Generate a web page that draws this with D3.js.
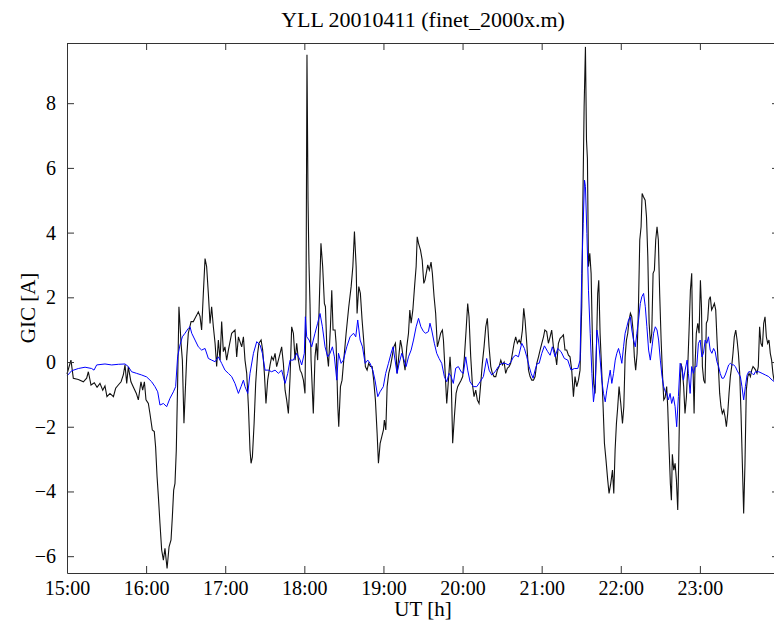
<!DOCTYPE html>
<html>
<head>
<meta charset="utf-8">
<script src="https://cdn.jsdelivr.net/npm/d3@7"></script>
<style>
  body { margin: 0; background: #fff; }
  svg text { font-family: "Liberation Serif", "Times New Roman", serif; fill: #000; }
</style>
</head>
<body>
<div id="chart"></div>
<script>
// minutes after 15:00 UT, and GIC [A]
const blackT = [0,3.0,4.8,8.6,12.4,14.9,16.2,18.2,20.7,22.8,25.0,27.1,28.8,30.3,32.6,35.2,36.9,38.9,41.0,42.7,44.0,45.3,46.5,48.5,50.3,52.6,54.1,56.1,57.4,58.7,59.9,61.7,62.9,64.7,66.2,67.2,68.3,69.3,70.5,71.8,73.1,74.3,75.9,77.4,78.9,79.9,80.9,81.9,82.9,83.9,84.9,86.5,87.5,88.7,
  90.8,92.0,94.1,95.8,97.1,98.4,99.6,100.9,102.1,103.4,104.7,105.9,107.2,108.5,109.7,111.0,112.3,113.5,114.8,116.1,117.3,118.6,119.8,121.1,122.4,124.9,127.4,128.7,130.0,132.5,133.8,135.0,136.3,137.6,138.8,139.6,140.6,141.9,143.1,144.6,145.6,147.2,148.4,149.7,150.9,152.2,154.0,155.2,156.5,157.8,159.0,160.3,161.6,162.8,164.1,165.4,166.6,167.9,169.2,170.4,171.7,173.0,174.2,175.5,176.8,178.0,179.3,
  180.5,181.3,182.0,182.8,183.5,184.3,185.1,186.8,188.1,189.1,190.1,191.4,192.6,193.9,195.2,196.0,197.2,198.3,199.8,200.8,201.8,203.3,204.1,205.4,206.1,207.4,208.6,209.9,211.7,213.7,215.5,216.8,218.0,219.3,220.0,221.3,222.5,223.8,225.0,226.3,227.6,228.8,230.1,231.4,232.6,233.9,235.2,236.2,237.5,238.7,240.0,240.7,241.8,242.8,244.0,245.3,246.6,247.8,249.1,250.4,251.6,252.9,253.9,255.2,256.4,257.7,259.0,260.0,261.0,262.3,263.6,264.8,265.6,266.6,268.1,269.4,270.6,
  271.5,273.6,274.8,276.1,277.1,278.4,279.6,280.9,282.2,283.4,284.7,285.5,286.7,288.0,289.3,290.5,291.3,292.5,293.8,295.1,296.3,297.6,298.9,300.1,301.4,302.7,303.9,304.9,306.2,307.4,308.7,310.0,311.2,312.5,313.8,315.0,316.3,317.6,318.8,320.1,321.4,322.6,323.9,325.2,326.4,327.7,329.0,330.2,331.5,332.7,334.0,335.3,336.5,337.8,339.1,340.3,341.6,342.9,344.1,345.4,346.4,347.4,348.7,350.0,351.2,352.5,353.8,355.0,356.3,357.6,358.8,360.1,361.4,
  362.4,363.8,365.1,366.4,367.6,368.9,370.2,371.4,372.7,374.0,375.2,376.5,377.7,379.0,380.3,381.5,382.8,384.1,385.3,386.6,387.9,389.1,390.4,391.2,392.2,393.2,394.0,394.7,395.5,396.5,397.5,398.5,399.5,400.5,401.5,402.5,403.3,404.3,405.6,406.6,407.6,408.8,410.1,411.1,412.4,413.7,414.7,415.7,416.7,417.7,418.7,420.0,421.3,422.3,423.3,424.3,425.3,426.3,427.3,428.3,429.3,430.3,431.3,432.4,433.4,434.4,435.4,436.2,437.2,438.5,439.5,440.5,441.5,442.5,443.5,444.5,445.5,446.5,447.5,448.5,449.5,450.6,451.6,452.6,
  453.6,454.8,455.6,456.6,457.6,458.4,459.1,460.2,461.2,462.2,463.2,463.9,464.7,465.7,466.7,467.7,468.7,469.8,470.8,471.8,472.8,473.8,474.8,475.6,476.3,477.3,478.4,479.4,480.4,481.2,481.9,482.9,483.9,484.9,485.9,486.9,487.9,488.9,490.0,491.0,492.0,493.0,494.0,495.0,496.0,497.0,498.1,499.1,500.1,501.1,502.1,503.1,504.1,505.1,506.1,507.2,508.2,509.2,510.2,511.2,512.2,513.2,514.2,515.2,516.3,517.3,518.3,519.3,520.3,521.3,522.3,523.3,524.3,525.3,526.3,527.4,528.4,529.4,530.4,531.4,532.4,533.4,534.4,535.4,536.2,540];
const blackGIC = [-0.37,0.06,-0.50,-0.54,-0.61,-0.50,-0.30,-0.71,-0.64,-0.78,-0.66,-0.87,-0.74,-1.07,-0.97,-1.07,-0.81,-0.71,-0.61,-0.40,-0.09,-0.66,-0.15,-0.61,-0.77,-0.97,-1.17,-0.61,-0.87,-0.61,-1.17,-1.28,-1.59,-2.10,-2.15,-2.62,-3.54,-4.16,-4.98,-5.81,-6.12,-5.76,-6.38,-5.71,-5.50,-4.78,-3.96,-3.75,-2.72,-0.66,1.71,0.58,0.06,-1.89,
  0.16,0.89,1.25,1.25,1.35,1.45,1.55,1.41,0.99,2.12,3.20,2.95,2.12,1.19,1.71,1.09,0.58,-0.14,0.68,0.06,1.25,0.32,0.47,0.06,0.37,0.89,0.99,0.16,0.78,0.47,0.78,0.06,-0.35,-1.38,-2.72,-3.13,-2.93,-1.90,-0.66,0.27,0.58,0.68,0.37,-0.35,-1.28,-0.56,-0.09,0.16,0.06,0.27,-0.14,0.06,0.27,0.47,-0.04,-0.87,-1.17,-1.59,-0.45,1.09,0.89,0.06,0.58,0.06,-0.25,-0.35,-0.56,
  -0.97,2.0,9.5,5.0,3.1,1.8,0.06,-1.59,0.16,0.58,0.06,1.92,3.67,2.95,1.81,1.71,0.27,-0.14,1.09,2.22,0.99,0.99,0.58,-1.38,-2.0,-0.76,-0.56,0.06,0.89,1.71,2.33,2.95,4.03,2.95,1.50,2.33,2.12,1.30,0.68,-0.14,-0.25,-0.04,-0.14,-0.14,-0.56,-1.17,-2.20,-3.13,-2.51,-2.31,-2.10,-1.79,-2.10,-0.76,-0.35,-0.14,0.16,0.47,0.58,-0.35,0.16,0.68,0.47,0.06,-0.25,0.47,0.89,1.61,1.20,1.61,2.33,2.95,3.87,3.67,3.46,3.15,2.43,
  2.53,3.0,2.84,3.09,2.74,2.02,1.50,0.47,0.68,0.89,0.99,0.68,-0.25,-1.28,-0.56,0.16,-0.35,-2.51,-1.69,-0.97,-0.76,-0.66,-0.56,-0.45,0.16,0.99,1.81,1.40,0.16,-0.66,-1.07,-0.87,-1.17,-1.28,-0.66,-0.04,0.47,1.09,1.35,0.47,-0.14,-0.35,-0.45,-0.45,-0.25,-0.14,0.06,-0.09,0.00,-0.35,-0.19,-0.14,-0.04,0.27,0.58,0.78,0.58,0.68,0.58,0.99,1.66,1.30,0.58,-0.25,-0.45,-0.56,-0.56,-0.45,-0.04,0.16,0.37,0.58,0.78,
  0.99,0.94,0.58,0.78,0.99,0.47,0.27,-0.09,0.58,0.73,0.78,0.84,0.37,0.37,0.21,0.16,-0.25,-1.07,-0.45,-0.76,-0.56,-0.25,1.71,4.80,7.89,9.74,6.86,6.28,2.95,3.36,2.74,0.68,-0.66,-0.97,0.37,2.12,2.53,0.89,-0.35,-1.38,-2.51,-3.03,-3.65,-4.06,-3.75,-3.34,-4.06,-2.72,-1.90,-1.38,-0.76,-1.28,-1.90,-1.38,0.16,0.68,0.89,1.30,1.51,1.40,0.99,0.16,-0.25,0.27,1.71,3.77,4.18,5.21,5.11,5.0,4.49,3.26,1.19,0.58,0.89,2.74,2.84,3.77,4.18,3.77,2.12,0.68,-0.35,-1.17,
  -1.1,-0.76,-1.38,-2.62,-3.75,-4.27,-2.85,-3.34,-3.13,-3.65,-4.57,-3.13,-1.17,-0.04,-0.25,-0.76,-1.59,-1.07,-0.14,0.99,2.22,2.74,-0.14,-1.59,-0.14,0.89,1.20,0.89,2.53,1.71,-0.14,-0.56,-0.66,1.20,1.30,1.92,2.02,1.61,1.71,1.81,1.61,0.68,-0.14,-0.97,-1.38,-1.59,-1.48,-1.69,-2.0,-1.59,-0.97,-0.45,-0.14,0.27,0.78,0.99,0.68,0.27,-0.35,-1.59,-3.13,-4.68,-3.13,-0.87,-0.45,-0.35,-0.45,-0.25,-0.14,-0.19,-0.25,-0.35,-0.14,1.09,0.58,0.47,1.20,1.40,0.78,0.58,0.68,0.27,0.06,-0.35,-0.56,-0.6];

const blueT = [0,3.5,8.6,13.7,18.7,20.5,22.5,28.8,33.9,38.9,44.0,46.5,49.0,52.8,56.6,60.4,64.2,66.7,68.8,70.5,73.1,75.6,78.1,80.7,82.4,83.9,85.7,87.5,
  89.5,92.0,93.3,94.6,97.1,99.6,102.1,104.7,107.2,109.7,112.3,114.8,117.3,119.8,122.4,124.9,127.4,130.0,132.0,133.8,135.0,137.1,138.8,141.4,143.9,146.5,148.2,150.2,152.7,155.2,157.8,160.3,162.8,165.4,167.4,169.2,171.7,174.2,176.8,178.0,180.0,
  180.8,181.8,183.6,185.6,186.8,188.1,190.1,191.9,193.7,195.7,197.7,199.5,201.3,202.8,204.6,205.9,207.9,209.6,212.2,214.7,217.3,219.0,220.5,222.3,224.1,226.1,228.1,229.9,231.9,233.6,235.7,237.4,239.9,241.7,243.8,245.8,247.3,248.8,250.3,251.9,253.9,255.7,257.2,259.0,261.0,262.8,264.8,266.6,268.4,270.4,
  272.0,274.1,275.3,276.6,278.6,280.4,282.2,284.2,286.2,288.0,289.8,291.3,293.0,294.8,296.8,298.9,300.6,302.4,303.9,305.7,308.2,310.8,313.3,315.8,318.3,320.1,322.1,324.7,327.2,329.7,332.3,334.8,336.8,338.6,340.4,342.4,344.9,346.9,348.7,350.5,352.0,353.5,355.0,356.6,358.1,360.1,
  362.1,364.6,366.4,368.1,370.2,372.2,374.7,377.2,379.8,382.3,384.8,387.4,389.1,390.4,391.5,392.5,393.2,394.3,395.5,396.8,398.1,399.3,400.6,401.9,403.1,404.4,405.6,406.9,408.2,409.4,410.7,412.0,413.2,414.5,415.8,417.0,418.3,419.6,420.8,422.1,423.3,424.6,425.9,427.2,428.4,429.7,431.0,432.2,433.5,434.8,436.0,437.3,438.6,439.8,441.1,442.4,443.7,444.9,446.2,447.5,448.7,450.0,451.3,452.5,
  453.8,454.8,456.1,457.4,458.6,459.9,461.2,462.4,463.7,465.0,466.2,467.5,468.8,470.3,471.3,472.6,473.8,475.1,476.4,477.6,478.9,480.2,481.5,482.7,484.0,485.3,486.5,487.8,489.1,490.4,491.6,492.9,494.2,495.4,496.7,498.0,499.2,500.5,501.8,503.1,504.3,505.6,506.9,508.1,509.4,510.7,511.9,513.2,514.5,515.8,517.0,518.3,519.6,520.8,522.1,524.6,527.2,529.7,532.2,534.8,536.6,540];
const blueGIC = [-0.43,-0.27,-0.20,-0.16,-0.20,-0.25,-0.09,-0.06,-0.09,-0.07,-0.06,-0.14,-0.30,-0.35,-0.40,-0.46,-0.61,-0.76,-0.92,-1.33,-1.28,-1.38,-1.12,-0.92,-0.76,0.16,0.53,0.78,
  0.89,1.04,1.09,0.89,0.68,0.47,0.37,0.42,0.11,0.06,0.01,0.16,-0.04,-0.25,-0.35,-0.45,-0.66,-0.97,-0.76,-0.56,-0.76,-0.97,-0.35,0.27,0.63,0.52,0.27,-0.25,-0.25,-0.30,-0.25,-0.35,-0.25,-0.66,-0.35,0.06,0.06,0.27,0.06,-0.09,0.27,
  1.40,0.78,0.68,0.47,0.68,0.89,1.20,1.50,1.09,0.47,0.16,0.27,0.47,0.16,-0.56,0.27,-0.04,0.06,0.47,0.78,0.89,0.78,1.30,0.68,0.47,-0.04,0.06,-0.04,-0.25,-0.56,-1.07,-0.92,-0.76,-0.35,-0.04,0.27,0.47,0.06,-0.35,-0.04,0.27,0.06,-0.14,0.16,0.37,0.68,1.09,1.35,1.09,0.94,
  0.89,0.94,1.20,0.99,0.58,0.27,0.11,-0.04,-0.45,-0.61,-0.35,-0.45,-0.66,-0.19,-0.14,-0.30,-0.35,0.16,-0.25,-0.61,-0.76,-0.76,-0.61,-0.45,0.11,-0.25,-0.40,-0.30,-0.14,-0.04,-0.04,-0.09,0.01,0.16,0.21,0.16,0.58,0.42,0.16,-0.14,-0.35,-0.50,-0.25,-0.04,-0.04,0.27,
  0.50,0.32,0.21,0.47,0.16,0.42,0.32,0.11,0.06,-0.25,-0.20,-0.20,0.06,2.74,4.28,5.62,5.42,3.97,2.22,0.89,-0.35,-1.23,-0.76,0.99,0.68,0.06,-0.56,-0.97,-1.23,-0.87,-0.56,-0.25,-0.66,-0.35,0.06,0.27,0.42,0.21,-0.04,0.47,0.89,1.09,1.30,1.40,0.99,0.68,0.47,0.89,1.30,1.81,2.02,2.12,1.71,1.09,0.37,0.06,0.47,0.89,1.09,0.99,0.68,0.06,-0.45,-0.76,
  -0.92,-0.97,-1.17,-0.97,-1.28,-1.07,-1.38,-2.0,-1.07,-0.04,-0.14,-0.56,-0.25,0.06,-0.35,-0.97,-0.14,-0.35,-0.14,-0.14,0.58,0.68,0.16,0.27,0.68,0.58,0.78,0.37,0.27,0.42,0.32,0.01,-0.14,-0.35,-0.50,-0.50,-0.40,-0.25,-0.09,-0.04,-0.09,-0.09,-0.14,-0.25,-0.35,-0.45,-0.76,-1.17,-0.76,-0.40,-0.30,-0.30,-0.35,-0.40,-0.30,-0.30,-0.35,-0.40,-0.45,-0.56,-0.61,-0.65];

const xTickMinutes = [0, 60, 120, 180, 240, 300, 360, 420, 480];
const xTickLabels = ["15:00", "16:00", "17:00", "18:00", "19:00", "20:00", "21:00", "22:00", "23:00"];
const yTicks = [-6, -4, -2, 0, 2, 4, 6, 8];

const width = 774, height = 622;
const margin = { top: 43, left: 67 };
const plotW = 712, plotH = 530;

const svg = d3.select("#chart").append("svg")
  .attr("width", width)
  .attr("height", height);

const x = d3.scaleLinear().domain([0, 540]).range([margin.left, margin.left + plotW]);
const y = d3.scaleLinear().domain([-6.52, 9.86]).range([margin.top + plotH, margin.top]);

// series
const line = d3.line().x(d => x(d[0])).y(d => y(d[1]));
const black = blackT.map((t, i) => [t, blackGIC[i]]);
const blue = blueT.map((t, i) => [t, blueGIC[i]]);

svg.append("path").datum(black)
  .attr("d", line)
  .attr("fill", "none")
  .attr("stroke", "#111")
  .attr("stroke-width", 1.1);

svg.append("path").datum(blue)
  .attr("d", line)
  .attr("fill", "none")
  .attr("stroke", "#0000ff")
  .attr("stroke-width", 1);

// axes, ticks pointing inward like matlab
const fmt = d => xTickLabels[xTickMinutes.indexOf(d)];
const tick = 7;

svg.append("g")
  .attr("transform", `translate(0,${margin.top + plotH})`)
  .call(d3.axisBottom(x).tickValues(xTickMinutes).tickFormat(fmt).tickSize(-tick).tickSizeOuter(0).tickPadding(8));
svg.append("g")
  .attr("transform", `translate(0,${margin.top})`)
  .call(d3.axisTop(x).tickValues(xTickMinutes).tickFormat("").tickSize(-tick).tickSizeOuter(0));
svg.append("g")
  .attr("transform", `translate(${margin.left},0)`)
  .call(d3.axisLeft(y).tickValues(yTicks).tickFormat(d3.format("d")).tickSize(-tick).tickSizeOuter(0).tickPadding(11));
svg.append("g")
  .attr("transform", `translate(${margin.left + plotW},0)`)
  .call(d3.axisRight(y).tickValues(yTicks).tickFormat("").tickSize(-tick).tickSizeOuter(0));

svg.selectAll(".domain, .tick line").attr("stroke", "#333");
svg.selectAll(".tick text").style("font-size", "20px").style("font-family", "Liberation Serif, serif");

// titles
svg.append("text")
  .attr("x", margin.left + plotW / 2)
  .attr("y", 27)
  .attr("text-anchor", "middle")
  .style("font-size", "22px")
  .text("YLL 20010411 (finet_2000x.m)");

svg.append("text")
  .attr("x", margin.left + plotW / 2)
  .attr("y", 616)
  .attr("text-anchor", "middle")
  .style("font-size", "21px")
  .text("UT [h]");

svg.append("text")
  .attr("transform", `translate(35,${margin.top + plotH / 2}) rotate(-90)`)
  .attr("text-anchor", "middle")
  .style("font-size", "21px")
  .text("GIC [A]");
</script>
</body>
</html>
